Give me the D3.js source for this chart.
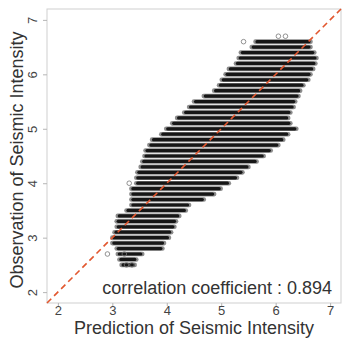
<!DOCTYPE html>
<html>
<head>
<meta charset="utf-8">
<script src="https://cdn.jsdelivr.net/npm/d3@7"></script>
<style>
  html, body { margin: 0; padding: 0; background: #fff; }
  svg { display: block; font-family: "Liberation Sans", Arial, sans-serif; }
</style>
</head>
<body>
<svg id="chart" width="342" height="342"></svg>
<script>
// observed intensity levels (one band of points per 0.1 step)
const levels = [6.6, 6.5, 6.4, 6.3, 6.2, 6.1, 6.0, 5.9, 5.8, 5.7, 5.6, 5.5, 5.4, 5.3, 5.2, 5.1, 5.0,
                4.9, 4.8, 4.7, 4.6, 4.5, 4.4, 4.3, 4.2, 4.1, 4.0, 3.9, 3.8, 3.7, 3.6, 3.5, 3.4,
                3.3, 3.2, 3.1, 3.0, 2.9, 2.8, 2.7, 2.6, 2.5];
// smallest predicted value in each band
const predMin = [5.63, 5.56, 5.36, 5.32, 5.27, 5.14, 5.08, 5.01, 4.96, 4.87, 4.68, 4.50, 4.41, 4.32, 4.19, 4.10, 3.99,
                 3.90, 3.73, 3.68, 3.61, 3.59, 3.55, 3.52, 3.46, 3.44, 3.44, 3.35, 3.35, 3.35, 3.35, 3.26, 3.10,
                 3.08, 3.08, 3.04, 3.00, 3.00, 3.08, 3.10, 3.13, 3.17];
// largest predicted value in each band
const predMax = [6.64, 6.64, 6.71, 6.75, 6.73, 6.69, 6.64, 6.60, 6.51, 6.45, 6.42, 6.36, 6.33, 6.27, 6.23, 6.27, 6.38,
                 6.23, 6.14, 6.05, 5.91, 5.78, 5.65, 5.50, 5.39, 5.29, 5.14, 4.99, 4.87, 4.68, 4.41, 4.35, 4.23,
                 4.17, 4.14, 4.08, 4.04, 3.95, 3.92, 3.55, 3.44, 3.41];
// isolated points outside the bands
const outX = [6.05, 6.18, 5.41, 3.31, 2.91, 3.22, 3.26, 3.36];
const outY = [6.7, 6.7, 6.6, 4.0, 2.7, 2.7, 2.5, 2.5];

const xTicks = [2, 3, 4, 5, 6, 7];
const yTicks = [2, 3, 4, 5, 6, 7];
const corrText = "correlation coefficient : 0.894";

const svg = d3.select("#chart");
const mLeft = 47, mRight = 341, mTop = 9, mBottom = 303;

const x = d3.scaleLinear().domain([1.8, 7.2]).range([mLeft, mRight]);
const y = d3.scaleLinear().domain([1.8, 7.2]).range([mBottom, mTop]);

// frame
svg.append("rect")
  .attr("x", mLeft).attr("y", mTop)
  .attr("width", mRight - mLeft).attr("height", mBottom - mTop)
  .attr("fill", "none").attr("stroke", "#cfcfcf").attr("stroke-width", 1);

// axes
const xAxis = svg.append("g")
  .attr("transform", "translate(0," + mBottom + ")")
  .call(d3.axisBottom(x).tickValues(xTicks).tickSize(3).tickPadding(0).tickFormat(d3.format("d")));
const yAxis = svg.append("g")
  .attr("transform", "translate(" + mLeft + ",0)")
  .call(d3.axisLeft(y).tickValues(yTicks).tickSize(4).tickFormat(d3.format("d")));
[xAxis, yAxis].forEach(a => {
  a.select(".domain").remove();
  a.selectAll(".tick line").attr("stroke", "#b5b5b5");
  a.selectAll(".tick text").attr("fill", "#444").style("font-size", "13px")
    .style("font-family", "'Liberation Sans', Arial, sans-serif");
});
yAxis.selectAll(".tick text")
  .attr("x", null).attr("dy", null)
  .attr("text-anchor", "middle")
  .attr("transform", "translate(-10,0) rotate(-90)");

// bands of points
const bands = levels.map((v, i) => ({ v: v, lo: predMin[i], hi: predMax[i] }));
const g = svg.append("g");
g.selectAll("line.edge").data(bands).enter().append("line")
  .attr("class", "edge")
  .attr("x1", d => x(d.lo)).attr("x2", d => x(d.hi))
  .attr("y1", d => y(d.v)).attr("y2", d => y(d.v))
  .attr("stroke", "#8c8c8c").attr("stroke-width", 4.6).attr("stroke-linecap", "round");
g.selectAll("line.core").data(bands).enter().append("line")
  .attr("class", "core")
  .attr("x1", d => x(d.lo) + 1.5).attr("x2", d => x(d.hi) - 1.5)
  .attr("y1", d => y(d.v)).attr("y2", d => y(d.v))
  .attr("stroke", "#161616").attr("stroke-width", 3.2).attr("stroke-linecap", "round");

g.selectAll("circle").data(outX).enter().append("circle")
  .attr("cx", d => x(d)).attr("cy", (d, i) => y(outY[i]))
  .attr("r", 2.3).attr("fill", "none").attr("stroke", "#777").attr("stroke-width", 0.8);

// y = x reference
svg.append("line")
  .attr("x1", x(1.8)).attr("y1", y(1.8))
  .attr("x2", x(7.2)).attr("y2", y(7.2))
  .attr("stroke", "#e2572f").attr("stroke-width", 1.6)
  .attr("stroke-dasharray", "6,4");

// texts
svg.append("text")
  .attr("x", 332).attr("y", 294)
  .attr("text-anchor", "end")
  .attr("fill", "#333").style("font-size", "18px")
  .text(corrText);

svg.append("text")
  .attr("x", (mLeft + mRight) / 2).attr("y", 334)
  .attr("text-anchor", "middle")
  .attr("fill", "#333").style("font-size", "18px")
  .text("Prediction of Seismic Intensity");

svg.append("text")
  .attr("transform", "translate(23," + ((mTop + mBottom) / 2 + 4) + ") rotate(-90)")
  .attr("text-anchor", "middle")
  .attr("fill", "#333").style("font-size", "18px")
  .text("Observation of Seismic Intensity");
</script>
</body>
</html>
